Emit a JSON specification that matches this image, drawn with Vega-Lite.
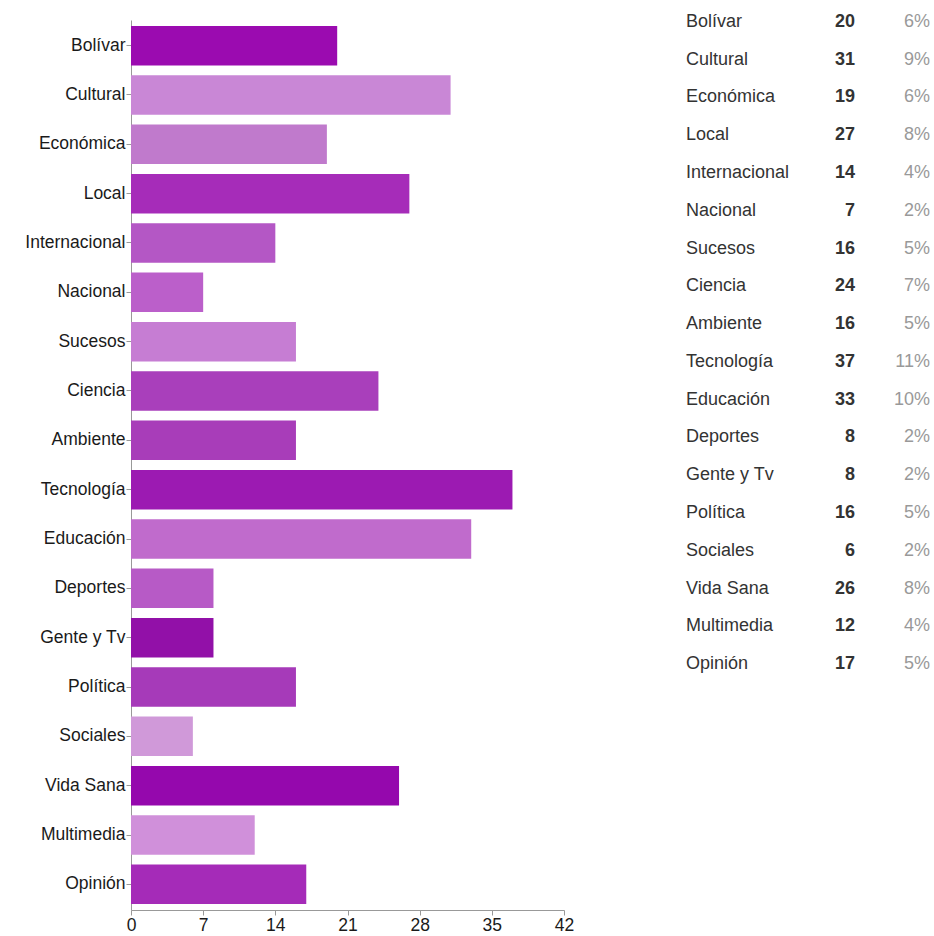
{
  "$schema": "https://vega.github.io/schema/vega-lite/v6.json",
  "padding": {"left": 5, "top": 12, "right": 4, "bottom": 5},
  "bounds": "flush",
  "spacing": 122,
  "config": {"view": {"stroke": null}, "font": "Liberation Sans"},
  "data": {"values": [
    {"cat": "Bolívar", "n": 20, "pct": "6%"},
    {"cat": "Cultural", "n": 31, "pct": "9%"},
    {"cat": "Económica", "n": 19, "pct": "6%"},
    {"cat": "Local", "n": 27, "pct": "8%"},
    {"cat": "Internacional", "n": 14, "pct": "4%"},
    {"cat": "Nacional", "n": 7, "pct": "2%"},
    {"cat": "Sucesos", "n": 16, "pct": "5%"},
    {"cat": "Ciencia", "n": 24, "pct": "7%"},
    {"cat": "Ambiente", "n": 16, "pct": "5%"},
    {"cat": "Tecnología", "n": 37, "pct": "11%"},
    {"cat": "Educación", "n": 33, "pct": "10%"},
    {"cat": "Deportes", "n": 8, "pct": "2%"},
    {"cat": "Gente y Tv", "n": 8, "pct": "2%"},
    {"cat": "Política", "n": 16, "pct": "5%"},
    {"cat": "Sociales", "n": 6, "pct": "2%"},
    {"cat": "Vida Sana", "n": 26, "pct": "8%"},
    {"cat": "Multimedia", "n": 12, "pct": "4%"},
    {"cat": "Opinión", "n": 17, "pct": "5%"}
  ]},
  "hconcat": [
    {
      "width": 433,
      "height": 890,
      "mark": {"type": "bar"},
      "encoding": {
        "y": {
          "field": "cat", "type": "nominal", "sort": null,
          "scale": {"paddingInner": 0.2, "paddingOuter": 0.12},
          "axis": {"title": null, "labelFontSize": 17.5, "labelColor": "#1a1a1a", "domainColor": "#999", "tickColor": "#999", "tickSize": 5, "labelPadding": 1, "minExtent": 126, "maxExtent": 126}
        },
        "x": {
          "field": "n", "type": "quantitative",
          "scale": {"domain": [0, 42], "nice": false},
          "axis": {"title": null, "values": [0, 7, 14, 21, 28, 35, 42], "grid": false, "labelFontSize": 17.5, "labelColor": "#1a1a1a", "domainColor": "#999", "tickColor": "#999", "tickSize": 5, "labelPadding": 1, "labelFlush": false}
        },
        "color": {
          "field": "cat", "type": "nominal", "sort": null, "legend": null,
          "scale": {
            "domain": ["Bolívar", "Cultural", "Económica", "Local", "Internacional", "Nacional", "Sucesos", "Ciencia", "Ambiente", "Tecnología", "Educación", "Deportes", "Gente y Tv", "Política", "Sociales", "Vida Sana", "Multimedia", "Opinión"],
            "range": ["#9b0bb0", "#c987d6", "#c07acc", "#a62cb9", "#b457c5", "#bb5fca", "#c67dd3", "#a93fbb", "#a83db9", "#9c1ab2", "#c06bcc", "#b75ac6", "#9210a8", "#a63ab9", "#d099d9", "#9508ad", "#d090da", "#a52bb8"]
          }
        }
      }
    },
    {
      "width": 244,
      "height": 646,
      "encoding": {
        "y": {"field": "cat", "type": "nominal", "sort": null, "scale": {"type": "point", "padding": 0.05}, "axis": null}
      },
      "layer": [
        {
          "mark": {"type": "text", "align": "left", "baseline": "middle", "fontSize": 18, "color": "#333"},
          "encoding": {
            "x": {"datum": 0, "type": "quantitative", "scale": {"domain": [0, 1], "nice": false}, "axis": null},
            "text": {"field": "cat"}
          }
        },
        {
          "mark": {"type": "text", "align": "right", "baseline": "middle", "fontSize": 18, "fontWeight": "bold", "color": "#333"},
          "encoding": {
            "x": {"datum": 0.693, "type": "quantitative"},
            "text": {"field": "n"}
          }
        },
        {
          "mark": {"type": "text", "align": "right", "baseline": "middle", "fontSize": 18, "color": "#999"},
          "encoding": {
            "x": {"datum": 1, "type": "quantitative"},
            "text": {"field": "pct"}
          }
        }
      ]
    }
  ]
}
